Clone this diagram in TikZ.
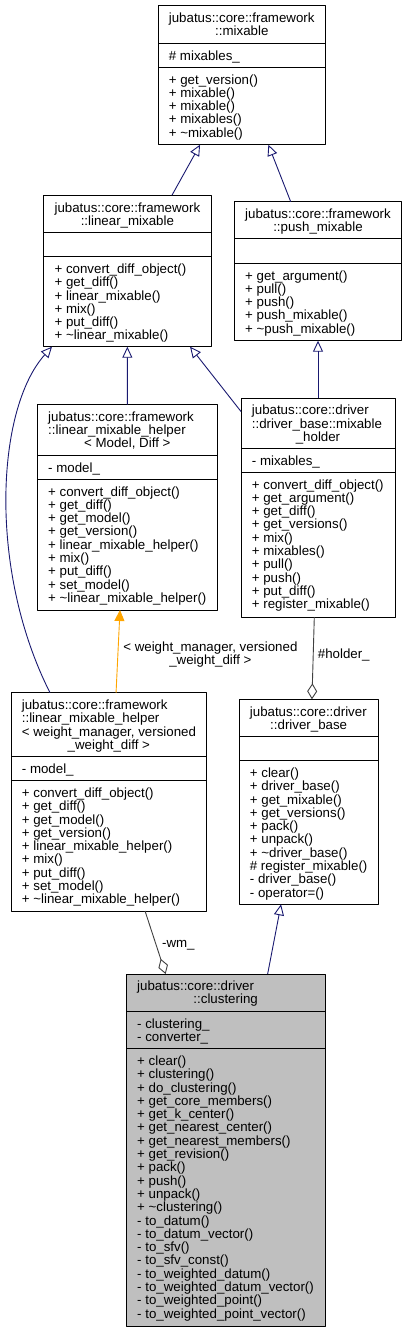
\documentclass[tikz,border=0pt]{standalone}
\usepackage{fontspec}
\setmainfont{Liberation Sans}
\usetikzlibrary{arrows.meta,positioning}
\definecolor{edgeblue}{RGB}{25,25,112}
\definecolor{edgeorange}{RGB}{255,165,0}
\definecolor{edgegrey}{RGB}{64,64,64}
\definecolor{nodegrey}{RGB}{191,191,191}
\newcommand\umlfont{\fontsize{13.3}{13.3}\selectfont}

\begin{document}
\begin{tikzpicture}[x=1pt, y=-1pt, line join=round, font=\umlfont,
  cbox/.style={draw=black, line width=1pt, inner sep=0pt, outer sep=0pt, anchor=north west},
  ltxt/.style={anchor=north west, inner sep=0pt, align=left},
  ctxt/.style={anchor=base, inner sep=0pt},
  inherit/.style={draw=edgeblue, line width=0.9pt, -{Triangle[open, length=11pt, width=10pt]}},
  templ/.style={draw=edgeorange, line width=0.9pt, -{Triangle[length=11pt, width=10pt]}},
  aggr/.style={draw=edgegrey, line width=0.9pt, -{Diamond[open, length=16pt, width=10pt]}},
  elabel/.style={anchor=west, inner sep=0pt, align=center}]
  \useasboundingbox (0,0) rectangle (407,1332);

  % class boxes
  \node[cbox, minimum width=167.7, minimum height=139] (mixable) at (158,5.7) {};
  \node[cbox, minimum width=167.3, minimum height=151.4] (linmix) at (43.7,195.3) {};
  \node[cbox, minimum width=167.4, minimum height=139] (pushmix) at (234.3,201.7) {};
  \node[cbox, minimum width=180, minimum height=205.3] (helpermd) at (37.3,404.7) {};
  \node[cbox, minimum width=154, minimum height=219] (holder) at (241,398) {};
  \node[cbox, minimum width=195.7, minimum height=218.3] (helperwm) at (11,692.7) {};
  \node[cbox, minimum width=139.3, minimum height=205] (drvbase) at (239,699.3) {};
  \node[cbox, fill=nodegrey, minimum width=198.7, minimum height=352] (clustering) at (126.3,974) {};
  \foreach \xa/\xb/\ya/\yb in {158/325.7/43.3/67.3, 43.7/211/232.7/256.7, 234.3/401.7/239/263.3,
      37.3/217.3/455.3/479.3, 241/395/448.7/472.3, 11/206.7/756.7/780.7,
      239/378.3/736.7/760.7, 126.3/325/1011.7/1048.7}
    \draw[line width=1pt] (\xa,\ya) -- (\xb,\ya) (\xa,\yb) -- (\xb,\yb);

  % mixable
  \node[ltxt] (mixable-t) at (168.7,12.6) {jubatus::core::framework};
  \node[ctxt] (mixable-n) at (241.85,35.5) {::mixable};
  \node[ltxt] (mixable-a) at (168.7,50.2) {\# mixables\_};
  \node[ltxt] (mixable-m) at (168.7,74.2) {+ get\_version()\\+ mixable()\\+ mixable()\\+ mixables()\\+ \textasciitilde mixable()};
  % linear_mixable
  \node[ltxt] (linmix-t) at (54.4,202.2) {jubatus::core::framework};
  \node[ctxt] (linmix-n) at (127.35,225.1) {::linear\_mixable};
  \node[ltxt] (linmix-m) at (54.4,263.6) {+ convert\_diff\_object()\\+ get\_diff()\\+ linear\_mixable()\\+ mix()\\+ put\_diff()\\+ \textasciitilde linear\_mixable()};
  % push_mixable
  \node[ltxt] (pushmix-t) at (245,208.6) {jubatus::core::framework};
  \node[ctxt] (pushmix-n) at (318,231.5) {::push\_mixable};
  \node[ltxt] (pushmix-m) at (245,270.2) {+ get\_argument()\\+ pull()\\+ push()\\+ push\_mixable()\\+ \textasciitilde push\_mixable()};
  % linear_mixable_helper< Model, Diff >
  \node[ltxt] (helpermd-t) at (48,411.6) {jubatus::core::framework\\::linear\_mixable\_helper};
  \node[ctxt] (helpermd-n) at (127.3,447.8) {< Model, Diff >};
  \node[ltxt] (helpermd-a) at (48,462.2) {- model\_};
  \node[ltxt] (helpermd-m) at (48,486.2) {+ convert\_diff\_object()\\+ get\_diff()\\+ get\_model()\\+ get\_version()\\+ linear\_mixable\_helper()\\+ mix()\\+ put\_diff()\\+ set\_model()\\+ \textasciitilde linear\_mixable\_helper()};
  % mixable_holder
  \node[ltxt] (holder-t) at (251.7,404.9) {jubatus::core::driver\\::driver\_base::mixable};
  \node[ctxt] (holder-n) at (318,441.1) {\_holder};
  \node[ltxt] (holder-a) at (251.7,455.6) {- mixables\_};
  \node[ltxt] (holder-m) at (251.7,479.2) {+ convert\_diff\_object()\\+ get\_argument()\\+ get\_diff()\\+ get\_versions()\\+ mix()\\+ mixables()\\+ pull()\\+ push()\\+ put\_diff()\\+ register\_mixable()};
  % linear_mixable_helper< weight_manager, versioned_weight_diff >
  \node[ltxt] (helperwm-t) at (21.7,699.6) {jubatus::core::framework\\::linear\_mixable\_helper\\< weight\_manager, versioned};
  \node[ctxt] (helperwm-n) at (108.85,749.1) {\_weight\_diff >};
  \node[ltxt] (helperwm-a) at (21.7,763.6) {- model\_};
  \node[ltxt] (helperwm-m) at (21.7,787.6) {+ convert\_diff\_object()\\+ get\_diff()\\+ get\_model()\\+ get\_version()\\+ linear\_mixable\_helper()\\+ mix()\\+ put\_diff()\\+ set\_model()\\+ \textasciitilde linear\_mixable\_helper()};
  % driver_base
  \node[ltxt] (drvbase-t) at (249.7,706.2) {jubatus::core::driver};
  \node[ctxt] (drvbase-n) at (308.65,729.1) {::driver\_base};
  \node[ltxt] (drvbase-m) at (249.7,767.6) {+ clear()\\+ driver\_base()\\+ get\_mixable()\\+ get\_versions()\\+ pack()\\+ unpack()\\+ \textasciitilde driver\_base()\\\# register\_mixable()\\- driver\_base()\\- operator=()};
  % clustering
  \node[ltxt] (clustering-t) at (137,980.9) {jubatus::core::driver};
  \node[ctxt] (clustering-n) at (225.65,1003.8) {::clustering};
  \node[ltxt] (clustering-a) at (137,1018.6) {- clustering\_\\- converter\_};
  \node[ltxt] (clustering-m) at (137,1055.6) {+ clear()\\+ clustering()\\+ do\_clustering()\\+ get\_core\_members()\\+ get\_k\_center()\\+ get\_nearest\_center()\\+ get\_nearest\_members()\\+ get\_revision()\\+ pack()\\+ push()\\+ unpack()\\+ \textasciitilde clustering()\\- to\_datum()\\- to\_datum\_vector()\\- to\_sfv()\\- to\_sfv\_const()\\- to\_weighted\_datum()\\- to\_weighted\_datum\_vector()\\- to\_weighted\_point()\\- to\_weighted\_point\_vector()};

  % relations
  \draw[inherit] ([xshift=44.6]linmix.north) -- ([xshift=-41.8]mixable.south);
  \draw[inherit] ([xshift=-27.3]pushmix.north) -- ([xshift=26.5]mixable.south);
  \draw[inherit] (helpermd.north) -- (linmix.south);
  \draw[inherit] ([yshift=-13.5]holder.north west) -- ([xshift=62.7]linmix.south);
  \draw[inherit] (holder.north) -- (pushmix.south);
  \draw[inherit] ([xshift=-58.85]helperwm.north) .. controls +(-62,-122.7) and +(-56,62.3) .. ([xshift=-75.35]linmix.south);
  \draw[templ] ([xshift=7.2]helperwm.north) -- node[elabel, pos=0.46, xshift=5] {< weight\_manager, versioned\\\_weight\_diff >} ([xshift=-7.3]helpermd.south);
  \draw[aggr] ([xshift=-3.7]holder.south) -- node[elabel, pos=0.46, xshift=4.2] {\#holder\_} ([xshift=3.3]drvbase.north);
  \draw[inherit] ([xshift=42]clustering.north) -- ([xshift=-27.6]drvbase.south);
  \draw[aggr] ([xshift=36.2]helperwm.south) -- node[elabel, pos=0.54, xshift=5.5] {-wm\_} ([xshift=-60]clustering.north);
\end{tikzpicture}
\end{document}
